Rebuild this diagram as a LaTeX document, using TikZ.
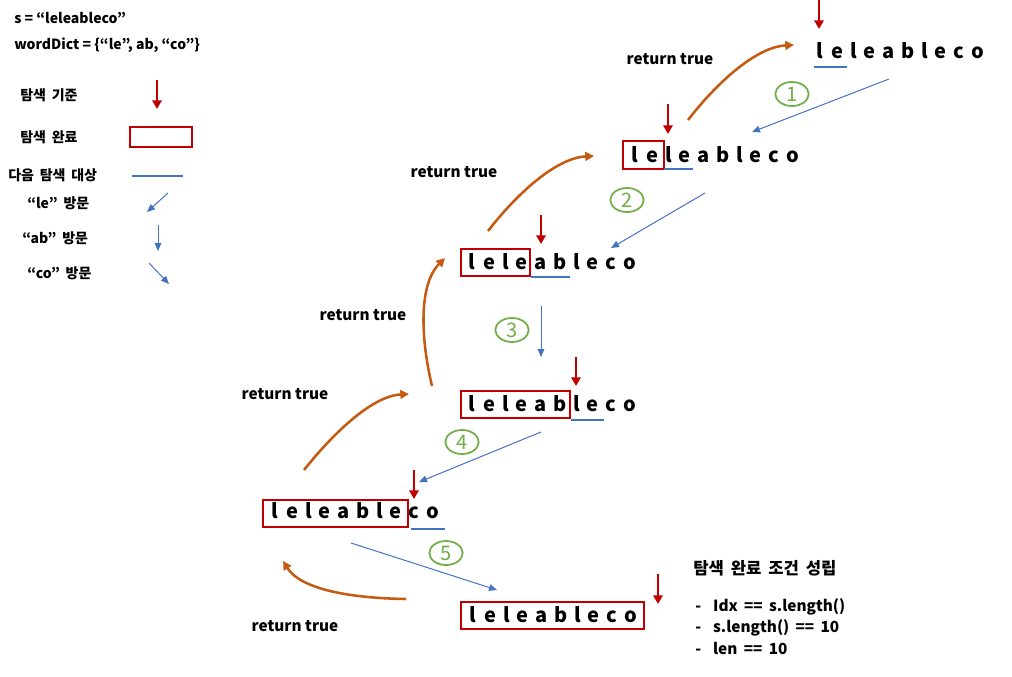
\documentclass[tikz,border=0pt]{standalone}
\usepackage{fontspec}
\setmainfont{Noto Sans CJK KR}
\newfontfamily\krw[WordSpace=2.2]{Noto Sans CJK KR}
\newfontfamily\enw[WordSpace=1.8]{Noto Sans CJK KR}
\usetikzlibrary{arrows.meta,shapes.geometric}
\definecolor{rd}{HTML}{C00000}
\definecolor{bl}{HTML}{4472C4}
\definecolor{og}{HTML}{C55A11}
\definecolor{gr}{HTML}{70AD47}
\tikzset{
  letter/.style={inner sep=0pt,anchor=base,font=\fontsize{15}{18}\selectfont\bfseries},
  lbl/.style={inner sep=0pt,anchor=west,font=\fontsize{10.5}{13}\selectfont\bfseries},
  klbl/.style={inner sep=0pt,anchor=west,font=\krw\fontsize{10.5}{13}\selectfont\bfseries},
  rt/.style={inner sep=0pt,font=\fontsize{11.5}{14}\selectfont\bfseries},
  cl/.style={inner sep=0pt,anchor=west,font=\enw\fontsize{11.5}{14}\selectfont\bfseries},
  redarrow/.style={draw=rd,line width=2.2pt,-{Triangle[width=7pt,length=6.5pt]}},
  bluearrow/.style={draw=bl,line width=0.75pt,-{Triangle[width=5pt,length=6pt]}},
  orarrow/.style={draw=og,line width=1.9pt,-{Triangle[width=6.5pt,length=6.5pt]}},
  donebox/.style={draw=rd,line width=1.5pt,inner sep=0pt},
  uline/.style={draw=bl,line width=2.2pt},
  numc/.style={draw=gr,line width=1.3pt,ellipse,inner sep=0pt,minimum width=25pt,minimum height=18pt,text=gr,font=\fontsize{15}{15}\selectfont},
}
\newcommand{\wordrow}[3]{%
  \foreach \c/\o [count=\i] in {l/0,e/17.5,l/34,e/49,a/68.5,b/88,l/104.5,e/120.5,c/139,o/158}{%
    \node[letter] (#1-\i) at (#2+\o,#3) {\c};}}
\begin{document}
\begin{tikzpicture}[x=0.75pt,y=-0.75pt]
\useasboundingbox (0,0) rectangle (1012,676);
% legend
\node[lbl] (s) at (14,18) {s = “leleableco”};
\node[lbl] (wd) at (14,45) {wordDict = \{“le”, ab, “co”\}};
\node[klbl] (l1) at (20,95) {탐색 기준};
\node[klbl] (l2) at (20,137) {탐색 완료};
\node[klbl] (l3) at (8,175) {다음 탐색 대상};
\node[klbl] (l4) at (27,203) {“le” 방문};
\node[klbl] (l5) at (22,238) {“ab” 방문};
\node[klbl] (l6) at (27,273) {“co” 방문};
\coordinate (a1s) at (157,80); \coordinate (a1e) at (157,109);
\draw[redarrow] (a1s) -- (a1e);
\node[donebox,minimum width=46pt,minimum height=15pt] (lbox) at (161,137) {};
\coordinate (u1s) at (132,176); \coordinate (u1e) at (183,176);
\draw[uline] (u1s) -- (u1e);
\coordinate (b1s) at (168,193); \coordinate (b1e) at (147,212);
\draw[bluearrow] (b1s) -- (b1e);
\coordinate (b2s) at (158,225); \coordinate (b2e) at (158,251);
\draw[bluearrow] (b2s) -- (b2e);
\coordinate (b3s) at (149,263); \coordinate (b3e) at (169,284);
\draw[bluearrow] (b3s) -- (b3e);
% rows
\wordrow{r1}{820}{58}
\wordrow{r2}{635}{162}
\wordrow{r3}{472}{269}
\wordrow{r4}{472}{411}
\wordrow{r5}{275}{518}
\wordrow{r6}{473}{622}
% boxes
\node[donebox,minimum width=30.75pt,minimum height=21pt] (bx2) at (643.5,155) {};
\node[donebox,minimum width=51.75pt,minimum height=20.25pt] (bx3) at (495.5,262.5) {};
\node[donebox,minimum width=81.75pt,minimum height=20.25pt] (bx4) at (515.5,404.5) {};
\node[donebox,minimum width=108.75pt,minimum height=20.25pt] (bx5) at (335.5,513.5) {};
\node[donebox,minimum width=137.25pt,minimum height=20.25pt] (bx6) at (552.5,615.5) {};
% underlines
\coordinate (ua1) at (814,67); \coordinate (ua2) at (847,67); \draw[uline] (ua1) -- (ua2);
\coordinate (ub1) at (664,169); \coordinate (ub2) at (693,169); \draw[uline] (ub1) -- (ub2);
\coordinate (uc1) at (531,277); \coordinate (uc2) at (570,277); \draw[uline] (uc1) -- (uc2);
\coordinate (ud1) at (571,420); \coordinate (ud2) at (604,420); \draw[uline] (ud1) -- (ud2);
\coordinate (ue1) at (411,529); \coordinate (ue2) at (445,529); \draw[uline] (ue1) -- (ue2);
% red arrows
\coordinate (ra1) at (819,0);   \coordinate (rb1) at (819,29);  \draw[redarrow] (ra1) -- (rb1);
\coordinate (ra2) at (668,104); \coordinate (rb2) at (668,134); \draw[redarrow] (ra2) -- (rb2);
\coordinate (ra3) at (541,215); \coordinate (rb3) at (541,244); \draw[redarrow] (ra3) -- (rb3);
\coordinate (ra4) at (576,357); \coordinate (rb4) at (576,386); \draw[redarrow] (ra4) -- (rb4);
\coordinate (ra5) at (414,470); \coordinate (rb5) at (414,499); \draw[redarrow] (ra5) -- (rb5);
\coordinate (ra6) at (658,574); \coordinate (rb6) at (658,604); \draw[redarrow] (ra6) -- (rb6);
% blue step arrows and numbers
\coordinate (s1a) at (889,79);  \coordinate (s1b) at (752,132); \draw[bluearrow] (s1a) -- (s1b);
\coordinate (s2a) at (705,193); \coordinate (s2b) at (611,248); \draw[bluearrow] (s2a) -- (s2b);
\coordinate (s3a) at (541,306); \coordinate (s3b) at (541,357); \draw[bluearrow] (s3a) -- (s3b);
\coordinate (s4a) at (541,432); \coordinate (s4b) at (419,482); \draw[bluearrow] (s4a) -- (s4b);
\coordinate (s5a) at (351,543); \coordinate (s5b) at (497,590); \draw[bluearrow] (s5a) -- (s5b);
\node[numc] (n1) at (792,94) {1};
\node[numc] (n2) at (627,200) {2};
\node[numc] (n3) at (512,330) {3};
\node[numc] (n4) at (462,442) {4};
\node[numc] (n5) at (446,553) {5};
% return arrows
\coordinate (o1a) at (688,120); \coordinate (o1b) at (794,45);
\draw[orarrow] (o1a) .. controls (715,85) and (755,47) .. (o1b);
\coordinate (o2a) at (488,231); \coordinate (o2b) at (594,156);
\draw[orarrow] (o2a) .. controls (515,196) and (555,158) .. (o2b);
\coordinate (o3a) at (432,386); \coordinate (o3b) at (445,258);
\draw[orarrow] (o3a) .. controls (421,340) and (418,285) .. (o3b);
\coordinate (o4a) at (304,470); \coordinate (o4b) at (409,394);
\draw[orarrow] (o4a) .. controls (331,436) and (371,396) .. (o4b);
\coordinate (o5a) at (406,599); \coordinate (o5b) at (283,561);
\draw[orarrow] (o5a) .. controls (345,598) and (300,588) .. (o5b);
\node[rt] (t1) at (670,59) {return true};
\node[rt] (t2) at (454,172) {return true};
\node[rt] (t3) at (363,315) {return true};
\node[rt] (t4) at (285,394) {return true};
\node[rt] (t5) at (295,626) {return true};
% condition
\node[inner sep=0pt,anchor=west,font=\krw\fontsize{12.5}{15}\selectfont\bfseries] (cond) at (693,568) {탐색 완료 조건 성립};
\node[cl] (c1) at (695,607) {-\hspace{9pt}Idx == s.length()};
\node[cl] (c2) at (695,628) {-\hspace{9pt}s.length() == 10};
\node[cl] (c3) at (695,648) {-\hspace{9pt}len == 10};
\end{tikzpicture}
\end{document}
